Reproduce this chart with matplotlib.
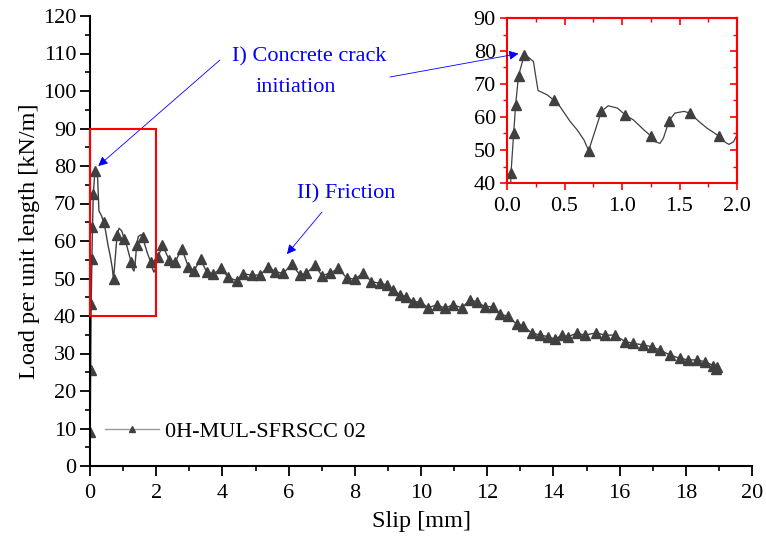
import matplotlib
matplotlib.use("Agg")
import matplotlib.pyplot as plt
from matplotlib.patches import Rectangle
from matplotlib.ticker import MultipleLocator

plt.rcParams["font.family"] = ["Liberation Serif", "DejaVu Serif"]
plt.rcParams["mathtext.fontset"] = "stix"

# Pull-out response of specimen 0H-MUL-SFRSCC 02
# Dense trace over the first 2 mm of slip (crack initiation region)
early_slip = [0.0, 0.005, 0.02, 0.035, 0.058, 0.075, 0.10, 0.15, 0.19, 0.23,
              0.25, 0.27, 0.29, 0.35, 0.41, 0.46, 0.55, 0.61, 0.67, 0.71,
              0.82, 0.88, 0.96, 1.03, 1.10, 1.19, 1.25, 1.29, 1.33, 1.36,
              1.41, 1.46, 1.54, 1.59, 1.67, 1.74, 1.84, 1.90, 1.93, 1.97, 2.00]
early_load = [0.0, 9.0, 25.5, 43.1, 55.1, 63.7, 72.5, 78.8, 78.0, 76.8,
              72.3, 68.0, 67.7, 66.7, 65.0, 63.2, 58.6, 56.1, 53.0, 49.8,
              61.7, 63.4, 62.7, 60.6, 59.1, 56.1, 54.3, 52.5, 52.0, 53.6,
              58.9, 61.2, 61.7, 61.2, 58.6, 56.6, 54.3, 52.3, 51.7, 52.5, 54.6]
# samples of the early trace that carry a symbol
early_marked = [1, 2, 3, 4, 5, 6, 7, 14, 19, 20, 23, 26, 30, 33, 36]

# Friction branch, 2 mm to the end of the test
late_slip = [2.06, 2.19, 2.39, 2.57, 2.77, 2.97, 3.14, 3.34, 3.52, 3.73,
             3.95, 4.18, 4.43, 4.63, 4.88, 5.14, 5.39, 5.59, 5.84, 6.09,
             6.34, 6.54, 6.80, 7.00, 7.25, 7.50, 7.75, 8.00, 8.26, 8.50,
             8.76, 8.96, 9.16, 9.37, 9.55, 9.77, 9.97, 10.22, 10.47, 10.73,
             10.97, 11.23, 11.48, 11.68, 11.93, 12.18, 12.39, 12.64, 12.89, 13.09,
             13.34, 13.60, 13.85, 14.05, 14.25, 14.45, 14.70, 14.95, 15.30, 15.56,
             15.86, 16.16, 16.41, 16.71, 16.97, 17.22, 17.52, 17.82, 18.07, 18.33,
             18.58, 18.83, 18.90, 18.95]
late_load = [55.8, 58.9, 55.0, 54.3, 58.0, 53.2, 52.0, 55.2, 51.8, 51.2,
             52.7, 50.3, 49.4, 51.3, 50.9, 50.9, 53.2, 51.8, 51.4, 53.8,
             51.0, 51.4, 53.6, 50.8, 51.4, 52.7, 50.2, 49.8, 51.5, 49.2,
             48.7, 48.3, 47.0, 45.6, 45.2, 43.8, 43.8, 42.2, 43.0, 42.1,
             43.0, 42.2, 44.3, 43.8, 42.5, 42.5, 40.5, 39.9, 37.8, 37.4,
             35.5, 34.9, 34.5, 33.8, 34.9, 34.5, 35.4, 34.9, 35.5, 34.9,
             34.9, 33.2, 32.7, 32.3, 31.8, 30.9, 29.6, 28.7, 28.3, 28.3,
             27.8, 26.8, 25.8, 26.3]

series_label = "0H-MUL-SFRSCC 02"
x_ticks = [0, 2, 4, 6, 8, 10, 12, 14, 16, 18, 20]
y_ticks = [0, 10, 20, 30, 40, 50, 60, 70, 80, 90, 100, 110, 120]
inset_x_ticks = [0.0, 0.5, 1.0, 1.5, 2.0]
inset_y_ticks = [40, 50, 60, 70, 80, 90]

slip = early_slip + late_slip
load = early_load + late_load
marks = early_marked + list(range(len(early_slip), len(slip)))

line_color = "#404040"
tick_fs = 16
label_fs = 17.5
W, H = 766, 540
fig = plt.figure(figsize=(W / 100, H / 100), dpi=100)

ax = fig.add_axes([90 / W, 1 - 466 / H, (752 - 90) / W, (466 - 16) / H])
ax.plot(slip, load, color=line_color, lw=1.0, marker="^", ms=7.5,
        markevery=marks, mfc=line_color, mec=line_color, label=series_label)
ax.set_xlim(0, 20)
ax.set_ylim(0, 120)
ax.set_xticks(x_ticks)
ax.set_yticks(y_ticks)
ax.xaxis.set_minor_locator(MultipleLocator(1))
ax.yaxis.set_minor_locator(MultipleLocator(5))
for s in ("top", "right"):
    ax.spines[s].set_visible(False)
for s in ("left", "bottom"):
    ax.spines[s].set_linewidth(1.5)
ax.tick_params(which="major", direction="out", length=7, width=1.3,
               labelsize=tick_fs, pad=3)
ax.tick_params(axis="x", which="major", pad=6)
ax.tick_params(which="minor", direction="out", length=3.5, width=1.2)
ax.set_xlabel("Slip [mm]", fontsize=label_fs, labelpad=6)
ax.set_ylabel("Load per unit length [kN/m]", fontsize=label_fs, labelpad=2)

leg = ax.legend(loc="center left", bbox_to_anchor=(0.023, 0.076), frameon=False,
                fontsize=tick_fs, handlelength=2.4, handletextpad=0.3,
                borderaxespad=0, borderpad=0, markerscale=0.6)
for h in leg.legend_handles:
    h.set_color("#9a9a9a")
    h.set_markerfacecolor(line_color)
    h.set_markeredgecolor(line_color)

ax.add_patch(Rectangle((0, 40), 2, 50, fill=False, edgecolor="red", lw=1.5,
                       zorder=5, clip_on=False))

# zoomed view of the first 2 mm
axi = fig.add_axes([507 / W, 1 - 183 / H, (737 - 507) / W, (183 - 18) / H])
axi.plot(slip, load, color=line_color, lw=0.9, marker="^", ms=7.5,
         markevery=marks, mfc=line_color, mec=line_color)
axi.set_xlim(0, 2)
axi.set_ylim(40, 90)
axi.set_xticks(inset_x_ticks)
axi.set_xticklabels([f"{v:.1f}" for v in inset_x_ticks])
axi.set_yticks(inset_y_ticks)
axi.xaxis.set_minor_locator(MultipleLocator(0.25))
axi.yaxis.set_minor_locator(MultipleLocator(5))
for s in axi.spines.values():
    s.set_color("red")
    s.set_linewidth(1.5)
axi.tick_params(which="major", direction="out", length=5, width=1.2,
                color="red", labelsize=tick_fs, pad=3)
axi.tick_params(axis="x", which="major", pad=5)
axi.tick_params(which="minor", direction="out", length=3, width=1.0, color="red")
for side in ("top", "right"):
    sec = axi.secondary_xaxis("top") if side == "top" else axi.secondary_yaxis("right")
    sec.set_ticks(inset_x_ticks if side == "top" else inset_y_ticks)
    if side == "top":
        sec.xaxis.set_minor_locator(MultipleLocator(0.25))
    else:
        sec.yaxis.set_minor_locator(MultipleLocator(5))
    sec.tick_params(which="major", direction="in", length=5, width=1.2,
                    color="red", labelleft=False, labelright=False,
                    labeltop=False, labelbottom=False)
    sec.tick_params(which="minor", direction="in", length=3, width=1.0, color="red")
    sec.spines[side].set_color("red")
    sec.spines[side].set_linewidth(1.5)

# annotations
blue = "#0000ff"
fig.text(309 / W, 1 - 57 / H, "I) Concrete crack", color=blue, fontsize=tick_fs,
         ha="center", va="center")
fig.text(296 / W, 1 - 88 / H, "initiation", color=blue, fontsize=tick_fs,
         ha="center", va="center")
fig.text(346 / W, 1 - 194 / H, "II) Friction", color=blue, fontsize=tick_fs,
         ha="center", va="center")

arrow = dict(arrowstyle="-|>", color=blue, lw=0.6, mutation_scale=14,
             shrinkA=0, shrinkB=0)
ax.annotate("", xy=(0.25, 80), xycoords="data",
            xytext=(220 / W, 1 - 60 / H), textcoords="figure fraction",
            arrowprops=arrow, annotation_clip=False)
axi.annotate("", xy=(0.10, 79.2), xycoords="data",
             xytext=(390 / W, 1 - 77 / H), textcoords="figure fraction",
             arrowprops=arrow, annotation_clip=False)
ax.annotate("", xy=(5.95, 56.5), xycoords="data",
            xytext=(322 / W, 1 - 212 / H), textcoords="figure fraction",
            arrowprops=arrow, annotation_clip=False)

fig.savefig("out.png", dpi=100)
